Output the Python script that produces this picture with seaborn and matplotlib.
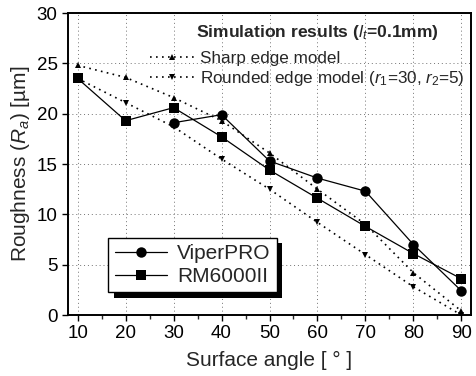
import matplotlib
matplotlib.use("Agg")
import matplotlib.pyplot as plt
import matplotlib.patheffects as pe
from matplotlib.ticker import MultipleLocator
import seaborn as sns
import pandas as pd

# ---- data ----
angles = [10, 20, 30, 40, 50, 60, 70, 80, 90]
viper_angles = [30, 40, 50, 60, 70, 80, 90]
viper = [19.1, 19.9, 15.3, 13.6, 12.3, 7.0, 2.4]
rm6000 = [23.5, 19.3, 20.6, 17.7, 14.4, 11.6, 8.8, 6.1, 3.6]
sharp = [24.8, 23.6, 21.6, 19.3, 16.1, 12.5, 9.0, 4.2, 0.4]
rounded = [23.5, 21.1, 18.7, 15.5, 12.5, 9.2, 6.0, 2.8, 0.0]
xticks = [10, 20, 30, 40, 50, 60, 70, 80, 90]
yticks = [0, 5, 10, 15, 20, 25, 30]

sns.set_style("ticks")
plt.rcParams['font.family'] = ['Liberation Sans', 'DejaVu Sans']
plt.rcParams['mathtext.fontset'] = 'custom'
plt.rcParams['mathtext.rm'] = 'Liberation Sans'
plt.rcParams['mathtext.it'] = 'Liberation Sans:italic'
plt.rcParams['mathtext.bf'] = 'Liberation Sans:bold'

fig = plt.figure(figsize=(4.77, 3.76), dpi=100)
ax = fig.add_axes([0.1426, 0.1622, 0.8448, 0.8032])

dot = (0, (1, 2.6))
sns.lineplot(x=angles, y=sharp, ax=ax, color='k', lw=1.2, linestyle=dot,
             marker='^', markersize=4.8, markeredgewidth=0, label='Sharp edge model', legend=False)
sns.lineplot(x=angles, y=rounded, ax=ax, color='k', lw=1.2, linestyle=dot,
             marker='v', markersize=4.8, markeredgewidth=0,
             label=r'Rounded edge model ($r_1$=30, $r_2$=5)', legend=False)
sns.lineplot(x=viper_angles, y=viper, ax=ax, color='k', lw=0.9,
             marker='o', markersize=7.5, markeredgewidth=0, label='ViperPRO', legend=False)
sns.lineplot(x=angles, y=rm6000, ax=ax, color='k', lw=0.9,
             marker='s', markersize=6.8, markeredgewidth=0, label='RM6000II', legend=False)

ax.set_xlim(8, 92)
ax.set_ylim(0, 30)
ax.set_xticks(xticks)
ax.set_yticks(yticks)
ax.xaxis.set_minor_locator(MultipleLocator(5))
ax.tick_params(axis='both', which='major', direction='out', length=4.5, width=1,
               labelsize=13.5, colors='k', pad=3)
ax.tick_params(axis='x', which='minor', direction='out', length=3, width=1)
ax.grid(True, which='major', ls=(0, (1, 3)), color='0.45', lw=0.7)
for s in ax.spines.values():
    s.set_visible(True)
    s.set_color('k')
    s.set_linewidth(1.4)

ax.set_xlabel('Surface angle [ ° ]', fontsize=15, labelpad=6)
ax.set_ylabel(r'Roughness ($R_a$) [µm]', fontsize=15, labelpad=3)

lines = ax.get_lines()
# model legend (upper right, no frame)
leg1 = ax.legend(handles=lines[:2], loc='upper left', bbox_to_anchor=(0.2035, 0.875),
                 frameon=False, fontsize=12.3, handlelength=2.55, handletextpad=0.35,
                 borderpad=0, borderaxespad=0, labelspacing=0.2)
ax.add_artist(leg1)
ax.text(0.318, 0.937, r'Simulation results ($\mathbf{\mathit{l}}_{t}$=0.1mm)', transform=ax.transAxes,
        fontsize=12.6, fontweight='bold', va='center', ha='left')

# measurement legend (lower left, framed with shadow)
leg2 = ax.legend(handles=lines[2:], loc='lower left', bbox_to_anchor=(0.10, 0.075),
                 frameon=True, fancybox=False, fontsize=15, handlelength=2.5,
                 handletextpad=0.5, borderpad=0.3, borderaxespad=0, labelspacing=0.2)
fr = leg2.get_frame()
fr.set_edgecolor('k')
fr.set_linewidth(1.0)
fr.set_facecolor('white')
fr.set_alpha(1)
fr.set_path_effects([pe.SimplePatchShadow(offset=(4, -4), shadow_rgbFace='k', alpha=1),
                     pe.Normal()])

fig.savefig('out.png', dpi=100)
